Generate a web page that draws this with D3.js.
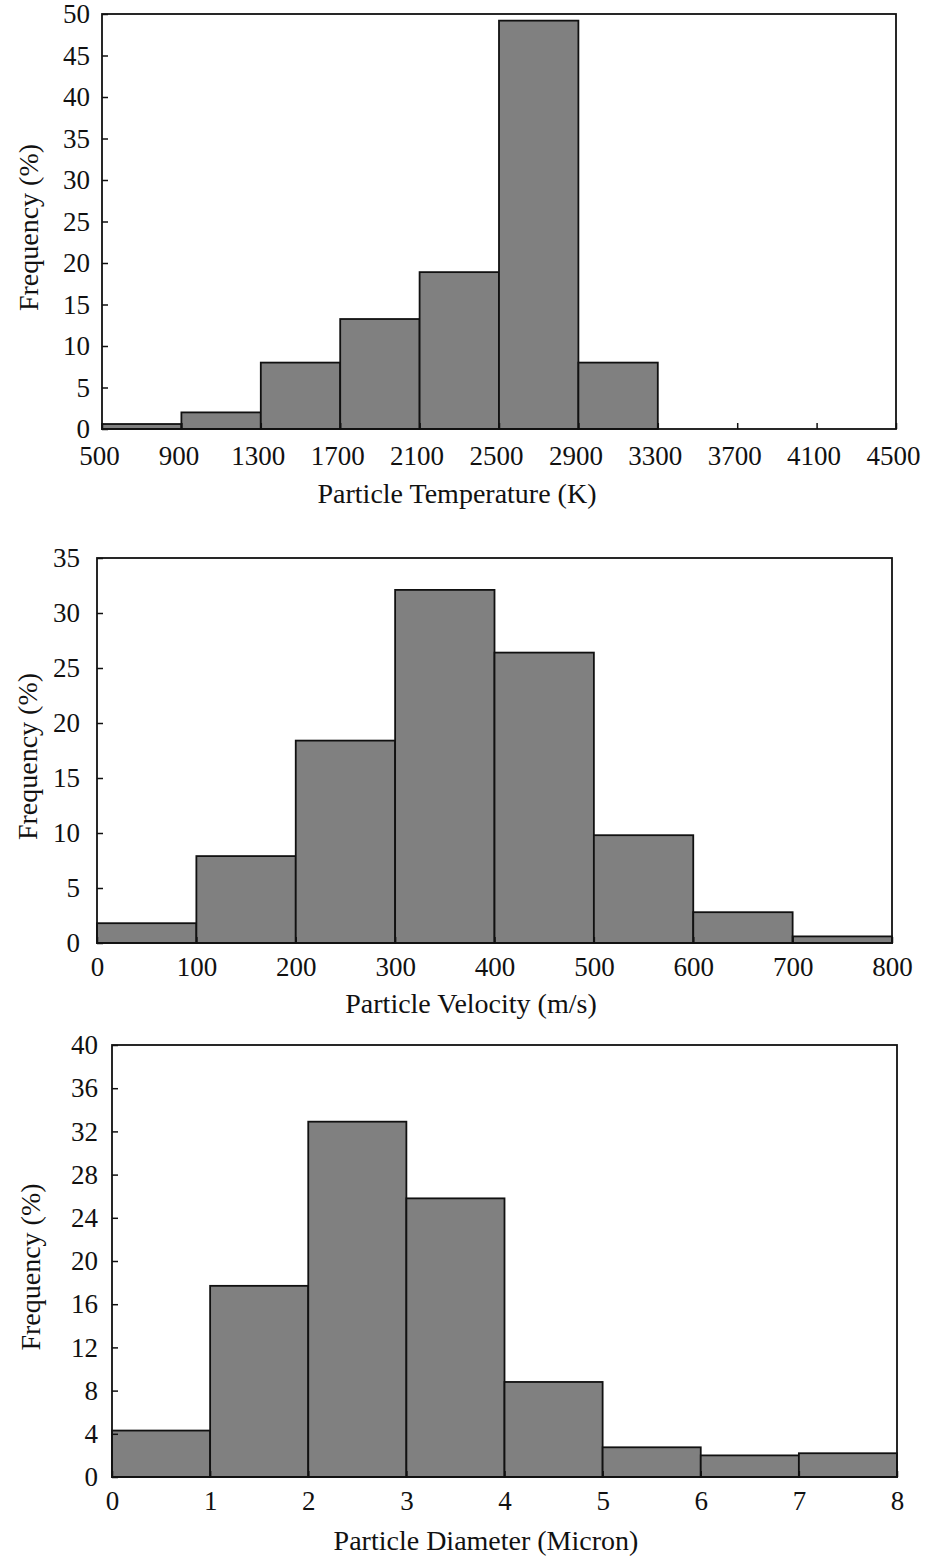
<!DOCTYPE html>
<html>
<head>
<meta charset="utf-8">
<script src="https://cdn.jsdelivr.net/npm/d3@7"></script>
<style>
  body { margin: 0; background: #fff; }
  svg { display: block; }
  .tick text { font-family: "Liberation Serif", "Times New Roman", serif; font-size: 27px; fill: #111; }
  .title { font-family: "Liberation Serif", "Times New Roman", serif; font-size: 28px; fill: #111; }
</style>
</head>
<body>
<script>
'use strict';

// particle temperature (K) histogram
var tempEdges = [500, 900, 1300, 1700, 2100, 2500, 2900, 3300];
var tempFreq = [0.6, 2.0, 8.0, 13.25, 18.9, 49.2, 8.0];
var tempTicksX = [500, 900, 1300, 1700, 2100, 2500, 2900, 3300, 3700, 4100, 4500];
var tempTicksY = [0, 5, 10, 15, 20, 25, 30, 35, 40, 45, 50];

// particle velocity (m/s) histogram
var velEdges = [0, 100, 200, 300, 400, 500, 600, 700, 800];
var velFreq = [1.8, 7.9, 18.4, 32.1, 26.4, 9.8, 2.8, 0.6];
var velTicksX = [0, 100, 200, 300, 400, 500, 600, 700, 800];
var velTicksY = [0, 5, 10, 15, 20, 25, 30, 35];

// particle diameter (micron) histogram
var diaEdges = [0, 1, 2, 3, 4, 5, 6, 7, 8];
var diaFreq = [4.3, 17.7, 32.9, 25.8, 8.8, 2.75, 2.0, 2.2];
var diaTicksX = [0, 1, 2, 3, 4, 5, 6, 7, 8];
var diaTicksY = [0, 4, 8, 12, 16, 20, 24, 28, 32, 36, 40];

var svg = d3.select("body").append("svg")
    .attr("width", 938)
    .attr("height", 1560);

function histogram(opt) {
    var w = opt.right - opt.left,
        h = opt.bottom - opt.top;

    var xScale = d3.scaleLinear()
        .domain([opt.ticksX[0], opt.ticksX[opt.ticksX.length - 1]])
        .range([0, w]);

    var yScale = d3.scaleLinear()
        .domain([opt.ticksY[0], opt.ticksY[opt.ticksY.length - 1]])
        .range([h, 0]);

    var g = svg.append("g")
        .attr("transform", "translate(" + opt.left + "," + opt.top + ")");

    var bins = opt.freq.map(function(f, i) {
        return {x0: opt.edges[i], x1: opt.edges[i + 1], f: f};
    });

    g.selectAll("rect.bar")
        .data(bins)
        .enter()
        .append("rect")
        .attr("class", "bar")
        .attr("x", function(d) { return xScale(d.x0); })
        .attr("width", function(d) { return xScale(d.x1) - xScale(d.x0); })
        .attr("y", function(d) { return yScale(d.f); })
        .attr("height", function(d) { return h - yScale(d.f); })
        .attr("fill", "#808080")
        .attr("stroke", "#111")
        .attr("stroke-width", 1.8);

    // x axis, ticks pointing inward
    var xAxis = g.append("g")
        .attr("transform", "translate(0," + h + ")")
        .call(d3.axisBottom(xScale)
            .tickValues(opt.ticksX)
            .tickFormat(d3.format("d"))
            .tickSizeInner(-6)
            .tickSizeOuter(0)
            .tickPadding(opt.xPad));
    xAxis.select(".domain").remove();
    xAxis.selectAll(".tick line").attr("stroke", "#111").attr("stroke-width", 1.5);
    xAxis.selectAll(".tick text").attr("dx", opt.xShift || 0);

    // y axis
    var yAxis = g.append("g")
        .call(d3.axisLeft(yScale)
            .tickValues(opt.ticksY)
            .tickFormat(d3.format("d"))
            .tickSizeInner(-6)
            .tickSizeOuter(0)
            .tickPadding(opt.yPad));
    yAxis.select(".domain").remove();
    yAxis.selectAll(".tick line").attr("stroke", "#111").attr("stroke-width", 1.5);

    // plot frame
    g.append("rect")
        .attr("x", 0)
        .attr("y", 0)
        .attr("width", w)
        .attr("height", h)
        .attr("fill", "none")
        .attr("stroke", "#111")
        .attr("stroke-width", 1.8);

    g.append("text")
        .attr("class", "title")
        .attr("x", opt.titleX - opt.left)
        .attr("y", h + opt.titleOffset)
        .attr("text-anchor", "middle")
        .text(opt.xTitle);

    g.append("text")
        .attr("class", "title")
        .attr("transform", "translate(" + (opt.yTitleX - opt.left) + "," + (h / 2 + 6) + ") rotate(-90)")
        .attr("text-anchor", "middle")
        .text("Frequency (%)");
}

histogram({
    edges: tempEdges, freq: tempFreq, ticksX: tempTicksX, ticksY: tempTicksY,
    left: 102, right: 896, top: 14, bottom: 429,
    xPad: 17, yPad: 12, xShift: -3, titleOffset: 74, titleX: 457, yTitleX: 38,
    xTitle: "Particle Temperature (K)"
});

histogram({
    edges: velEdges, freq: velFreq, ticksX: velTicksX, ticksY: velTicksY,
    left: 97, right: 892, top: 558, bottom: 943,
    xPad: 14, yPad: 17, titleOffset: 70, titleX: 471, yTitleX: 37,
    xTitle: "Particle Velocity (m/s)"
});

histogram({
    edges: diaEdges, freq: diaFreq, ticksX: diaTicksX, ticksY: diaTicksY,
    left: 112, right: 897, top: 1045, bottom: 1477,
    xPad: 14, yPad: 14, titleOffset: 73, titleX: 486, yTitleX: 40,
    xTitle: "Particle Diameter (Micron)"
});
</script>
</body>
</html>
